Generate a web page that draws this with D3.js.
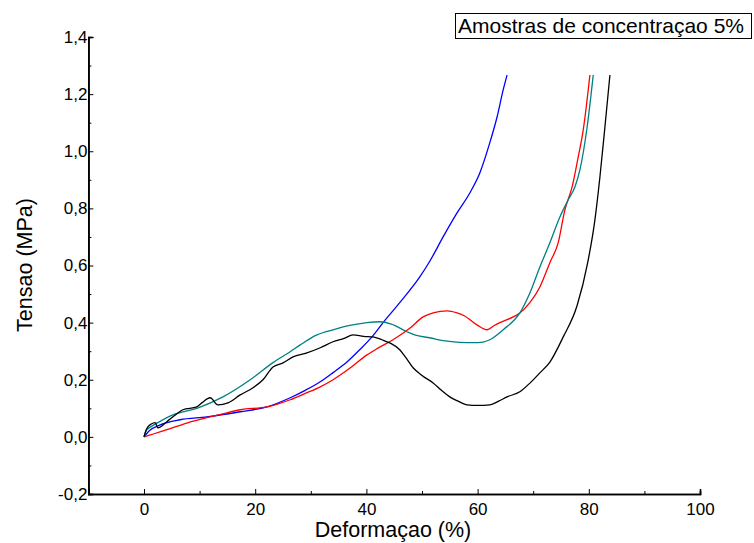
<!DOCTYPE html>
<html><head><meta charset="utf-8">
<script src="https://cdn.jsdelivr.net/npm/d3@7"></script>
<style>body{margin:0;background:#fff}svg{display:block}text{font-family:"Liberation Sans",Arial,sans-serif}</style>
</head><body>
<svg id="c" width="754" height="543"></svg>
<script>
const blueX = [0,1,2.9,6.5,11.3,17.3,22.1,26.3,29,31.7,34,36.5,38.8,41,43,46,49.6,51.4,53.8,56.3,58.6,60.4,62.2,63.5,64.6,65.3];
const blueY = [0,0.022,0.042,0.06,0.07,0.088,0.105,0.137,0.163,0.193,0.225,0.262,0.305,0.35,0.40,0.47,0.56,0.615,0.70,0.784,0.854,0.924,1.03,1.12,1.215,1.267];
const redX = [0,1,3,5.2,8,11.3,14,17.3,22.1,24,26.3,29,31.7,34,37,40.1,42,44.8,47.8,50.2,52,54.5,56.3,57.5,59.9,61.7,63,64,66.4,67.6,69.4,71.2,73,74.5,75.7,77,78.1,79,80.2];
const redY = [0,0.006,0.018,0.032,0.05,0.067,0.08,0.095,0.105,0.115,0.13,0.152,0.175,0.2,0.24,0.287,0.31,0.34,0.38,0.42,0.434,0.441,0.434,0.425,0.392,0.375,0.39,0.40,0.42,0.434,0.47,0.525,0.61,0.68,0.795,0.875,0.98,1.075,1.267];
const tealX = [0,0.5,1.2,2.5,5.2,9.5,14.2,19.1,23.2,26.3,28.1,31.1,34,37,40.1,42.4,44.5,47.3,49,51.4,53.8,56.8,59.2,61,62.2,64.6,67.6,69.4,71.2,73,74.8,76.3,77.5,78.4,79.7,80.8];
const tealY = [0,0.025,0.035,0.05,0.077,0.10,0.14,0.20,0.26,0.298,0.322,0.357,0.375,0.39,0.40,0.403,0.395,0.368,0.355,0.347,0.337,0.331,0.33,0.332,0.34,0.375,0.434,0.504,0.595,0.68,0.77,0.83,0.875,0.935,1.085,1.267];
const blackX = [0,0.3,0.7,1.3,2.0,2.5,4.1,5.5,7.0,9.5,10.4,11.9,13.3,15.1,17.3,19.6,21.4,23.2,25,26.8,29.3,31.7,34,36,37.6,39.5,41.2,42.8,44.2,46,47,48.4,50,52,53.5,55,56.5,58.1,60,62.2,63.8,65.3,67.6,69.5,71.2,73,75.4,77.9,79.8,81.1,82,82.9,83.8];
const blackY = [0,0.02,0.035,0.045,0.05,0.032,0.053,0.075,0.095,0.105,0.119,0.137,0.112,0.119,0.147,0.172,0.20,0.245,0.259,0.28,0.294,0.312,0.333,0.345,0.357,0.352,0.35,0.34,0.329,0.305,0.28,0.242,0.215,0.189,0.163,0.14,0.125,0.112,0.11,0.112,0.125,0.14,0.158,0.19,0.224,0.262,0.35,0.46,0.61,0.76,0.91,1.085,1.267];
const xMajor = [0,20,40,60,80,100];
const xMinor = [-10,10,30,50,70,90];
const yMajor = [-0.2,0,0.2,0.4,0.6,0.8,1.0,1.2,1.4];
const yMinor = [-0.1,0.1,0.3,0.5,0.7,0.9,1.1,1.3];
const xTitle = "Deformaçao (%)";
const yTitle = "Tensao (MPa)";
const legendText = "Amostras de concentraçao 5%";

const svg = d3.select("#c");
const x = d3.scaleLinear().domain([-10,100]).range([88.4,700]);
const y = d3.scaleLinear().domain([-0.2,1.4]).range([494,37]);
const fmt = v => d3.format(".1f")(v).replace(".", ",").replace("−","-");

// x axis
const gx = svg.append("g").attr("transform","translate(0,494)");
gx.call(d3.axisBottom(x).tickValues(xMajor).tickSize(-5).tickPadding(9).tickFormat(d3.format("d")));
gx.append("g").call(d3.axisBottom(x).tickValues(xMinor).tickSize(-3).tickFormat(""));
gx.selectAll(".domain").attr("stroke-width",1.6);
gx.selectAll("text").attr("font-size",17).attr("fill","#000");

// y axis
const gy = svg.append("g").attr("transform","translate(88.4,0)");
gy.call(d3.axisLeft(y).tickValues(yMajor).tickSize(-5).tickPadding(1).tickFormat(fmt));
gy.append("g").call(d3.axisLeft(y).tickValues(yMinor).tickSize(-3).tickFormat(""));
gy.selectAll(".domain").attr("stroke-width",1.6);
gy.selectAll("text").attr("font-size",17).attr("fill","#000");

// lines
const line = d3.line().x(d=>x(d[0])).y(d=>y(d[1])).curve(d3.curveMonotoneX);
const series = [
  [blueX, blueY, "#0000ff"],
  [redX, redY, "#ff0000"],
  [tealX, tealY, "#008080"],
  [blackX, blackY, "#000000"]
];
series.forEach(([xs, ys, c]) => {
  svg.append("path").datum(xs.map((v,i)=>[v, ys[i]]))
    .attr("d", line).attr("fill","none").attr("stroke", c).attr("stroke-width",1.3)
    .attr("stroke-linejoin","round");
});

// titles
svg.append("text").attr("x",393).attr("y",537).attr("text-anchor","middle")
  .attr("font-size",21.5).text(xTitle);
svg.append("text").attr("transform","translate(32,265) rotate(-90)").attr("text-anchor","middle")
  .attr("font-size",21.5).text(yTitle);

// legend box
svg.append("rect").attr("x",455.5).attr("y",13.5).attr("width",296).attr("height",25)
  .attr("fill","#fff").attr("stroke","#000").attr("stroke-width",1);
svg.append("text").attr("x",458).attr("y",33).attr("font-size",21).text(legendText);
</script>
</body></html>
